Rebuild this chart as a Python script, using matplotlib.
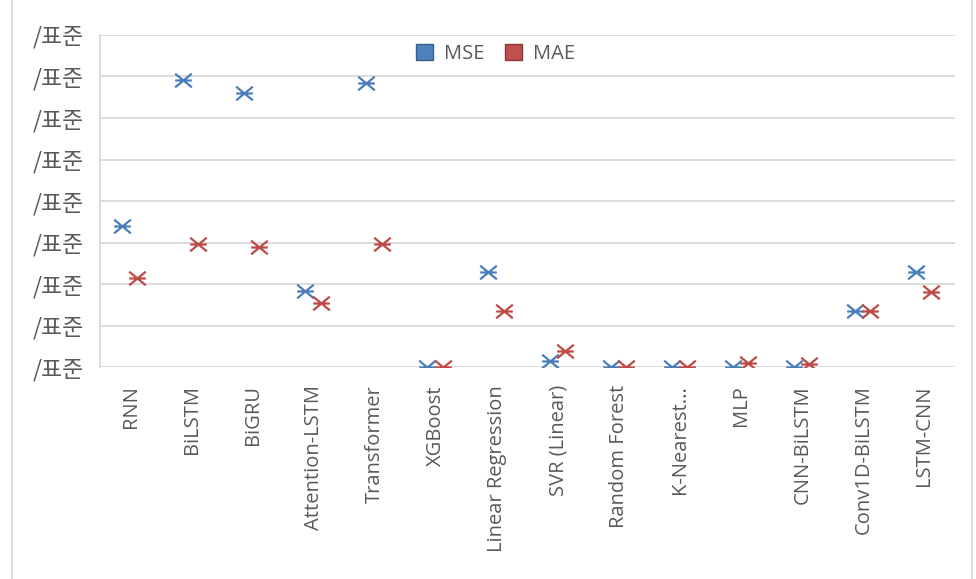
import matplotlib
matplotlib.use("Agg")
import matplotlib.pyplot as plt
from matplotlib.path import Path
from matplotlib.lines import Line2D
from matplotlib.patches import Patch
import numpy as np

models = ["RNN", "BiLSTM", "BiGRU", "Attention-LSTM", "Transformer", "XGBoost",
          "Linear Regression", "SVR (Linear)", "Random Forest", "K-Nearest...",
          "MLP", "CNN-BiLSTM", "Conv1D-BiLSTM", "LSTM-CNN"]
mse = [3.39, 6.92, 6.60, 1.83, 6.84, 0.00, 2.30, 0.14, 0.00, 0.00, 0.00, 0.00, 1.35, 2.30]
mae = [2.15, 2.96, 2.90, 1.55, 2.96, 0.00, 1.35, 0.39, 0.00, 0.00, 0.11, 0.07, 1.35, 1.81]
y_ticks = [0, 1, 2, 3, 4, 5, 6, 7, 8]
y_tick_labels = ["/표준"] * len(y_ticks)

blue = "#4A7EBB"
red = "#BE4B48"
grey_text = "#595959"
grid_col = "#D9D9D9"

# X marker with a horizontal stroke through the middle
star_x = Path([(-1, -0.82), (1, 0.82), (-1, 0.82), (1, -0.82), (-1, 0), (1, 0)],
              [Path.MOVETO, Path.LINETO, Path.MOVETO, Path.LINETO, Path.MOVETO, Path.LINETO])

fig = plt.figure(figsize=(9.76, 5.79), dpi=100)
ax = fig.add_axes([0.1025, 0.366, 0.876, 0.5736])

x = np.arange(len(models))
ax.plot(x - 0.14, mse, linestyle="none", marker=star_x, markersize=12,
        markeredgewidth=1.6, color=blue, clip_on=True, zorder=3)
ax.plot(x + 0.11, mae, linestyle="none", marker=star_x, markersize=12,
        markeredgewidth=1.6, color=red, clip_on=True, zorder=3)

ax.set_xlim(-0.5, len(models) - 0.5)
ax.set_ylim(0, 8)
ax.set_yticks(y_ticks)
ax.set_yticklabels(y_tick_labels, fontfamily=["Noto Sans CJK KR", "DejaVu Sans"],
                   fontsize=16.5, color=grey_text)
ax.set_xticks(x)
ax.set_xticklabels(models, rotation=90, fontfamily="Open Sans", fontsize=14.5,
                   color=grey_text, va="top", ha="center")
ax.tick_params(axis="both", length=0)
ax.tick_params(axis="y", pad=11.5)
ax.tick_params(axis="x", pad=13)

ax.grid(axis="y", color=grid_col, linewidth=1.3)
ax.set_axisbelow(True)
for side in ["top", "right", "bottom"]:
    ax.spines[side].set_visible(False)
ax.spines["left"].set_color(grid_col)
ax.spines["left"].set_linewidth(1.3)

handles = [Patch(facecolor="#4F81BD", edgecolor="#385D8A", linewidth=1.0),
           Patch(facecolor="#C0504D", edgecolor="#8C3836", linewidth=1.0)]
leg = fig.legend(handles, ["MSE", "MAE"], loc="center", bbox_to_anchor=(0.508, 0.906),
                 ncol=2, frameon=False, prop={"family": "Open Sans", "size": 14.5},
                 handlelength=0.85, handleheight=0.85, columnspacing=1.0, handletextpad=0.55)
for t in leg.get_texts():
    t.set_color(grey_text)

# outer chart frame edges
fig.add_artist(Line2D([12 / 976, 12 / 976], [0, 1], color=grid_col, linewidth=1.3))
fig.add_artist(Line2D([972 / 976, 972 / 976], [0, 1], color=grid_col, linewidth=1.3))

fig.savefig("out.png", dpi=100)
